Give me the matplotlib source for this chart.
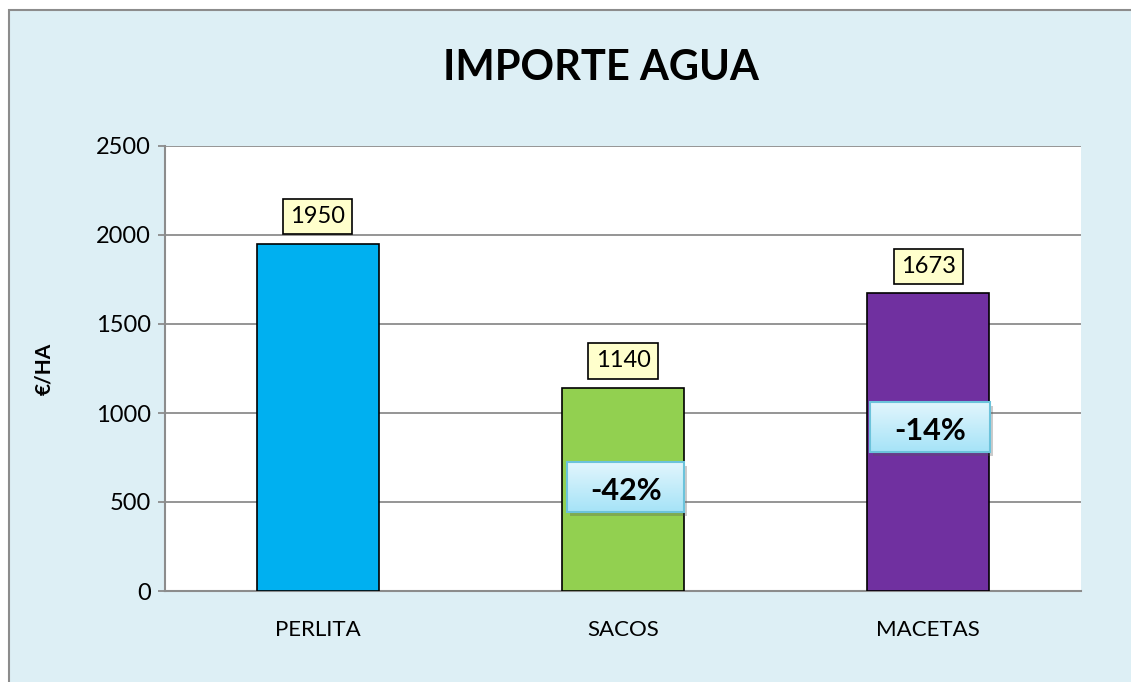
import numpy as np
import matplotlib
matplotlib.use('Agg')
import matplotlib.pyplot as plt
import matplotlib.transforms as mtransforms
from matplotlib.patches import Rectangle

plt.rcParams['font.family'] = ['Lato', 'DejaVu Sans']

categories  = ['PERLITA', 'SACOS', 'MACETAS']
values      = [1950, 1140, 1673]
bar_colors  = ['#00B0F0', '#92D050', '#7030A0']
y_ticks     = [0, 500, 1000, 1500, 2000, 2500]

# percent change against PERLITA
pct_labels  = ['%d%%' % round((v - values[0]) / values[0] * 100) for v in values[1:]]

# layout of the blue percent boxes (data coords: x0, x1, y0, y1)
pct_boxes   = [(0.817, 1.20, 444, 725), (1.809, 2.202, 781, 1062)]

fig = plt.figure(figsize=(11.31, 6.82), dpi=100)
fig.patch.set_facecolor('white')

# chart area background with grey frame
bg = Rectangle((9 / 1131, -0.01), 1.0, 1 - 10 / 682 + 0.01, transform=fig.transFigure,
               facecolor='#DDEFF5', edgecolor='#8C8C8C', linewidth=1.5, zorder=-1)
fig.patches.append(bg)

ax = fig.add_axes([165 / 1131, 1 - 591 / 682, (1081 - 165) / 1131, (591 - 146) / 682])
ax.set_facecolor('white')

x = np.arange(len(categories))
bars = ax.bar(x, values, width=0.4, color=bar_colors, edgecolor='black', linewidth=1.2, zorder=3)

for xi, v in zip(x, values):
    ax.annotate(str(v), (xi, v), xytext=(0, 19.5), textcoords='offset points',
                ha='center', va='center', fontsize=17, color='black', zorder=6,
                bbox=dict(boxstyle='square,pad=0.3', facecolor='#FFFFCC', edgecolor='black', linewidth=1.2))

# gradient boxes with shadow
grad = np.linspace(0, 1, 64).reshape(-1, 1)
top_c = np.array([0.89, 0.965, 0.99])
bot_c = np.array([0.65, 0.89, 0.97])
grad_img = top_c[None, None, :] * (1 - grad[:, :, None]) + bot_c[None, None, :] * grad[:, :, None]
shadow_tr = mtransforms.offset_copy(ax.transData, fig, x=3, y=-4, units='dots')
for (x0, x1, y0, y1), lab in zip(pct_boxes, pct_labels):
    ax.add_patch(Rectangle((x0, y0), x1 - x0, y1 - y0, transform=shadow_tr,
                           facecolor='#555555', alpha=0.3, edgecolor='none', zorder=4))
    ax.imshow(grad_img, extent=(x0, x1, y0, y1), aspect='auto', origin='upper', zorder=5)
    ax.add_patch(Rectangle((x0, y0), x1 - x0, y1 - y0, facecolor='none',
                           edgecolor='#6CC3DB', linewidth=1.5, zorder=5.5))
    ax.text((x0 + x1) / 2, (y0 + y1) / 2 - 25, lab, ha='center', va='center',
            fontsize=22, fontweight='bold', color='black', zorder=6)

ax.set_xlim(-0.5, len(categories) - 0.5)
ax.set_ylim(0, 2500)
ax.set_yticks(y_ticks)
ax.set_xticks(x)
ax.set_xticklabels(categories)
ax.yaxis.grid(True, color='#8C8C8C', linewidth=1.3, zorder=1)
ax.set_axisbelow(True)
for s in ['top', 'right']:
    ax.spines[s].set_visible(False)
for s in ['left', 'bottom']:
    ax.spines[s].set_color('#8C8C8C')
    ax.spines[s].set_linewidth(1.5)
ax.tick_params(axis='y', length=5, width=1.3, color='#8C8C8C', labelsize=17, pad=5)
ax.tick_params(axis='x', length=0, labelsize=16, pad=21)

ax.set_ylabel('€/HA', fontsize=15, fontweight='bold', labelpad=30)

fig.text(601 / 1131, 1 - 68 / 682, 'IMPORTE AGUA', ha='center', va='center',
         fontsize=30, fontweight='bold', color='black')

fig.savefig('out.png', dpi=100)
